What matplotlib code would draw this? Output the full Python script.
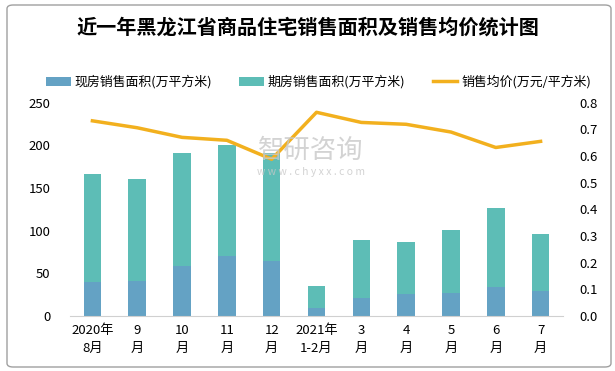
import matplotlib.pyplot as plt
from matplotlib.patches import FancyBboxPatch
import numpy as np

plt.rcParams['font.family'] = ['Noto Sans CJK SC', 'DejaVu Sans']

# data
months = ["2020年\n8月", "9\n月", "10\n月", "11\n月", "12\n月", "2021年\n1-2月",
          "3\n月", "4\n月", "5\n月", "6\n月", "7\n月"]
spot_area = [40, 41, 58.6, 70.3, 64.5, 9.4, 21.5, 25.8, 27, 34, 29.7]
total_area = [166.5, 160.6, 190.7, 200.4, 190.7, 35.2, 89, 86.8, 100.8, 126.6, 96]
presale_area = [t - s for t, s in zip(total_area, spot_area)]
avg_price = [0.732, 0.706, 0.670, 0.659, 0.588, 0.764, 0.726, 0.719, 0.690, 0.632, 0.655]

c_spot = "#64a2c4"
c_pre = "#5dbdb6"
c_line = "#f2b01e"

fig = plt.figure(figsize=(6.15, 3.71), dpi=100)
ax = fig.add_axes([70 / 615, 1 - 316 / 371, 493 / 615, (316 - 102.7) / 371])

x = np.arange(len(months))
ax.bar(x, spot_area, width=0.39, color=c_spot, label="现房销售面积(万平方米)")
ax.bar(x, presale_area, width=0.39, bottom=spot_area, color=c_pre,
       label="期房销售面积(万平方米)")
ax.set_ylim(0, 250)
ax.set_xlim(-0.5, len(months) - 0.5)
ax.set_yticks(range(0, 251, 50))
ax.set_xticks(x)
ax.set_xticklabels(months, fontsize=9.5, linespacing=1.5)
for s in ["top", "right", "left"]:
    ax.spines[s].set_visible(False)
ax.spines["bottom"].set_color("#d0d0d0")
ax.tick_params(axis="both", length=0, labelsize=9.5)
ax.tick_params(axis="y", pad=14)
ax.tick_params(axis="x", pad=6)

ax2 = ax.twinx()
ax2.plot(x, avg_price, color=c_line, lw=2.5, label="销售均价(万元/平方米)")
ax2.set_ylim(0, 0.8)
ax2.set_yticks(np.arange(0, 0.81, 0.1))
ax2.set_yticklabels([f"{v:.1f}" for v in np.arange(0, 0.81, 0.1)])
for s in ["top", "right", "left", "bottom"]:
    ax2.spines[s].set_visible(False)
ax2.tick_params(axis="y", length=0, labelsize=9.5, pad=12)

# legend
h1, l1 = ax.get_legend_handles_labels()
h2, l2 = ax2.get_legend_handles_labels()
fig.legend(h1 + h2, l1 + l2, loc="center", bbox_to_anchor=(0.518, 1 - 82 / 371),
           ncol=3, frameon=False, fontsize=9.3, handlelength=1.9,
           handleheight=0.7, columnspacing=2.1, handletextpad=0.3,
           borderpad=0, borderaxespad=0)

# title
fig.text(0.5, 1 - 27 / 371, "近一年黑龙江省商品住宅销售面积及销售均价统计图",
         ha="center", va="center", fontsize=14.5, fontweight="bold")

# watermark
fig.text(0.505, 1 - 150 / 371, "智研咨询", ha="center", va="center",
         fontsize=19, color="#c8c8c8", alpha=0.8)
fig.text(0.505, 1 - 172 / 371, "w w w . c h y x x . c o m", ha="center",
         va="center", fontsize=7.5, color="#c8c8c8", alpha=0.8)

# outer border
fig.patches.append(FancyBboxPatch((7 / 615, 4 / 371), 604 / 615, 362 / 371,
                                  boxstyle="round,pad=0,rounding_size=0.01",
                                  transform=fig.transFigure, fill=False,
                                  edgecolor="#a0a0a0", lw=1))

fig.savefig("out.png", dpi=100)
